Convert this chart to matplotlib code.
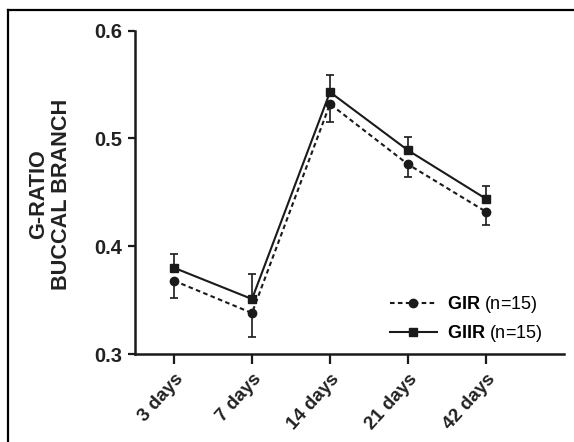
import matplotlib
matplotlib.use("Agg")
import matplotlib.pyplot as plt
from matplotlib.lines import Line2D

plt.rcParams['font.family'] = ['Liberation Sans', 'DejaVu Sans']
plt.rcParams['mathtext.fontset'] = 'custom'
plt.rcParams['mathtext.bf'] = 'Liberation Sans:bold'
plt.rcParams['mathtext.rm'] = 'Liberation Sans'

categories = ['3 days', '7 days', '14 days', '21 days', '42 days']
gir = [0.368, 0.338, 0.532, 0.476, 0.432]
gir_err = [0.016, 0.022, 0.017, 0.012, 0.012]
giir = [0.380, 0.351, 0.543, 0.489, 0.444]
giir_err = [0.013, 0.023, 0.016, 0.012, 0.012]
y_ticks = [0.3, 0.4, 0.5, 0.6]

W, H = 574, 442
fig = plt.figure(figsize=(W / 100, H / 100), dpi=100)
ax = fig.add_axes([135 / W, 1 - 354 / H, (564 - 135) / W, (354 - 30.7) / H])

x = list(range(len(categories)))
col = '#1a1a1a'

ax.errorbar(x, gir, yerr=[gir_err, [0] * len(gir)], fmt='none', ecolor=col,
            elinewidth=1.2, capsize=3, capthick=1.2, zorder=2)
ax.errorbar(x, giir, yerr=[[0] * len(giir), giir_err], fmt='none', ecolor=col,
            elinewidth=1.2, capsize=3, capthick=1.2, zorder=2)
l1, = ax.plot(x, gir, linestyle=(0, (2.2, 1.6)), color=col, lw=1.5,
              marker='o', markersize=6, zorder=3,
              label=r'$\mathbf{GIR}$ (n=15)')
l2, = ax.plot(x, giir, linestyle='-', color=col, lw=1.5,
              marker='s', markersize=5.5, zorder=4,
              label=r'$\mathbf{GIIR}$ (n=15)')

ax.set_xlim(-0.5, 5.0)
ax.set_ylim(0.3, 0.6)
ax.set_yticks(y_ticks)
ax.set_yticklabels([f'{v:.1f}' for v in y_ticks], fontsize=14.5, fontweight='bold', color='#222222')
ax.set_xticks(x)
ax.set_xticklabels(categories, rotation=48, ha='right', rotation_mode='anchor',
                   fontsize=13.5, fontweight='bold', color='#222222')
for s in ['top', 'right']:
    ax.spines[s].set_visible(False)
for s in ['left', 'bottom']:
    ax.spines[s].set_linewidth(1.8)
    ax.spines[s].set_color(col)
ax.tick_params(axis='y', width=1.6, length=5, color=col, pad=4)
ax.tick_params(axis='x', width=1.6, length=7, color=col, pad=5)

fig.text(50 / W, 1 - 194 / H, 'G-RATIO\nBUCCAL BRANCH', rotation=90, ha='center',
         va='center', multialignment='center', fontsize=15.6, fontweight='bold',
         color='#222222', linespacing=1.15)

ax.legend(handles=[l1, l2], loc='upper left', bbox_to_anchor=(390 / W, 1 - 294 / H),
          bbox_transform=fig.transFigure, frameon=False, fontsize=13,
          handlelength=2.6, handletextpad=0.55, labelspacing=0.45,
          borderpad=0, borderaxespad=0)

fig.add_artist(Line2D([8 / W, 8 / W], [0, 1 - 9.5 / H], transform=fig.transFigure,
                      color='black', lw=1.6))
fig.add_artist(Line2D([8 / W, 1], [1 - 9.5 / H, 1 - 9.5 / H], transform=fig.transFigure,
                      color='black', lw=1.6))

fig.savefig('out.png', dpi=100)
